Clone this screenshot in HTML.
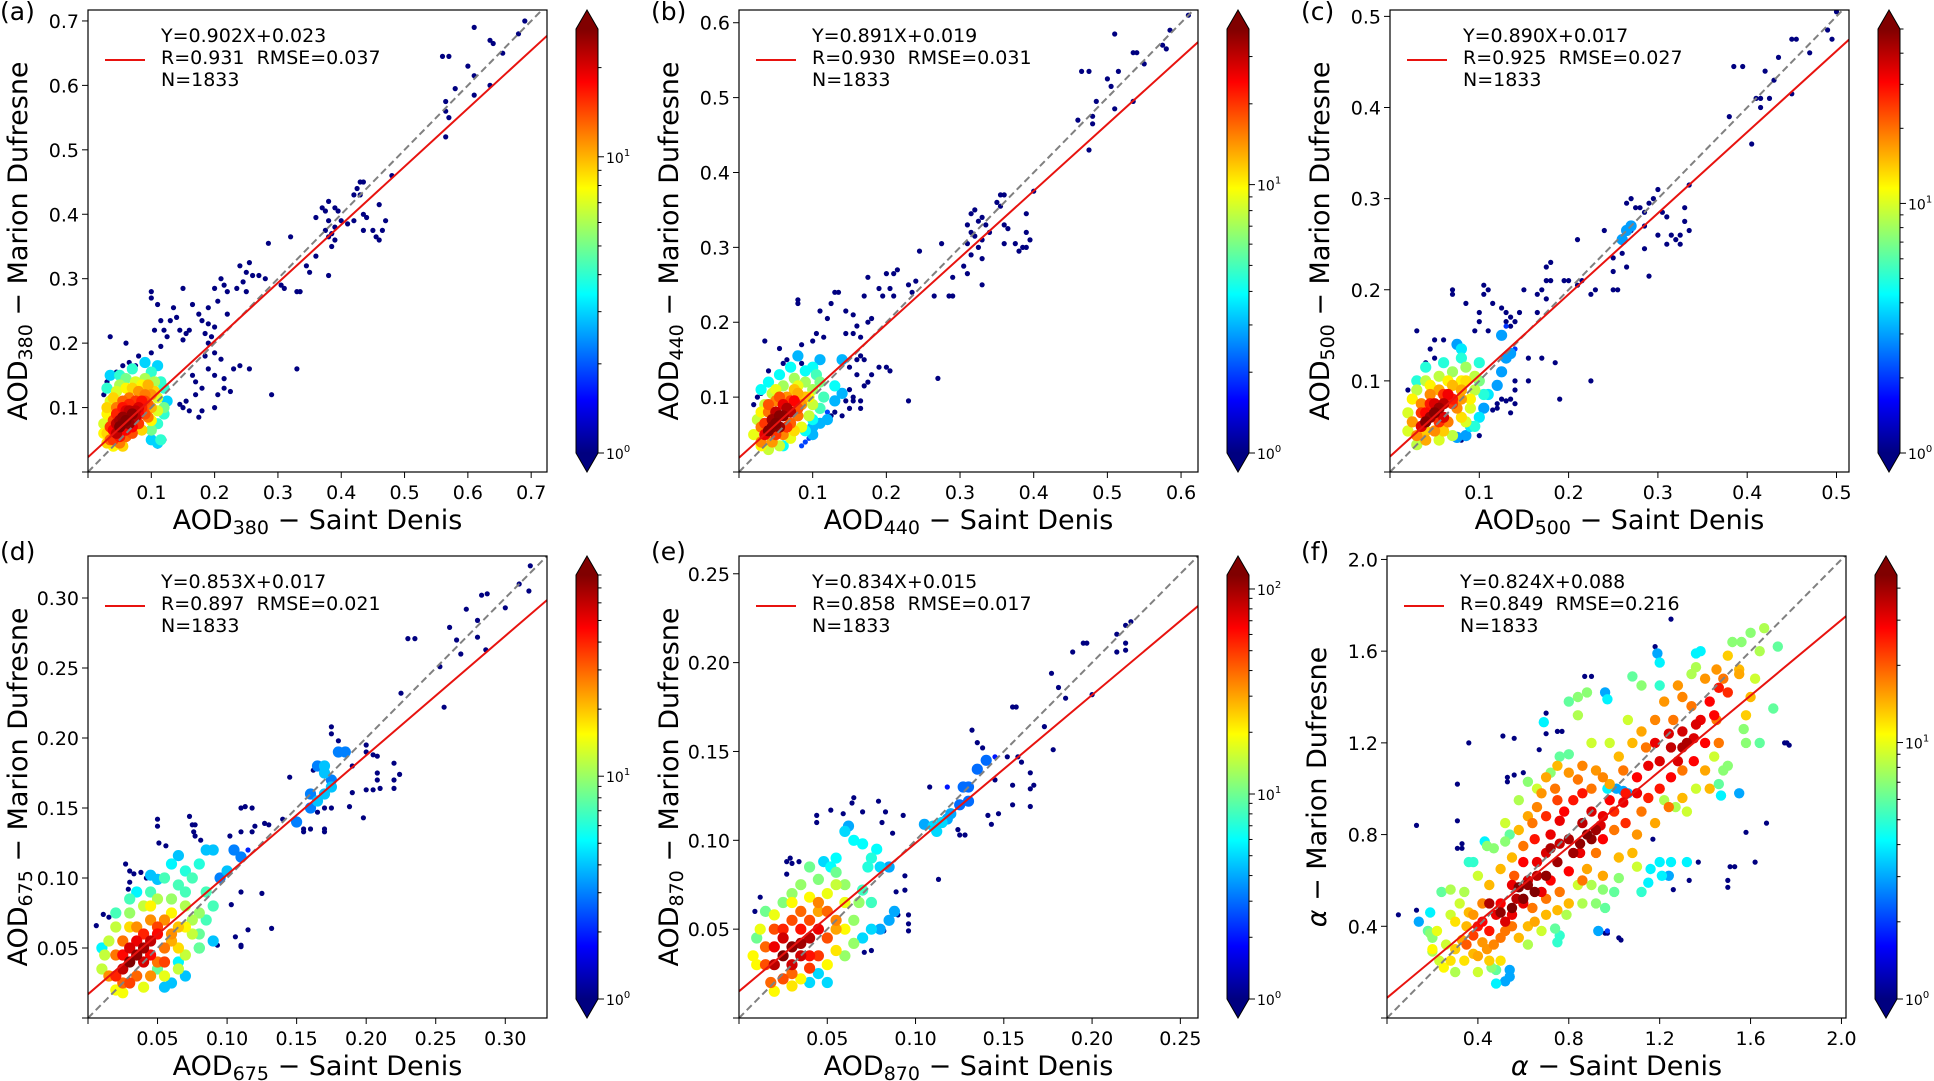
<!DOCTYPE html>
<html><head><meta charset="utf-8"><title>AOD scatter comparison</title>
<style>
html,body{margin:0;padding:0;background:#fff;}
svg{display:block;font-family:"DejaVu Sans","Liberation Sans",sans-serif;}
</style></head>
<body>
<svg id="fig" width="1934" height="1081" viewBox="0 0 1934 1081" xmlns="http://www.w3.org/2000/svg">
<defs id="defs"></defs>
</svg>
<script>
// ---------- DATA ----------
const xTicksA=[0.1,0.2,0.3,0.4,0.5,0.6,0.7];
const yTicksA=[0.1,0.2,0.3,0.4,0.5,0.6,0.7];
const xTicksB=[0.1,0.2,0.3,0.4,0.5,0.6];
const yTicksB=[0.1,0.2,0.3,0.4,0.5,0.6];
const xTicksC=[0.1,0.2,0.3,0.4,0.5];
const yTicksC=[0.1,0.2,0.3,0.4,0.5];
const xTicksD=[0.05,0.10,0.15,0.20,0.25,0.30];
const yTicksD=[0.05,0.10,0.15,0.20,0.25,0.30];
const xTicksE=[0.05,0.10,0.15,0.20,0.25];
const yTicksE=[0.05,0.10,0.15,0.20,0.25];
const xTicksF=[0.4,0.8,1.2,1.6,2.0];
const yTicksF=[0.4,0.8,1.2,1.6,2.0];
const slopes=[0.902,0.891,0.890,0.853,0.834,0.824];
const intercepts=[0.023,0.019,0.017,0.017,0.015,0.088];
const rValues=["0.931","0.930","0.925","0.897","0.858","0.849"];
const rmseValues=["0.037","0.031","0.027","0.021","0.017","0.216"];
const nValues=[1833,1833,1833,1833,1833,1833];
const cbarMax=[27,38,50,80,117,45];

const ptsA=[[0.69,0.70],[0.61,0.69],[0.56,0.645],[0.57,0.645],[0.6,0.63],[0.64,0.665],[0.635,0.67],[0.68,0.68],[0.655,0.65],[0.61,0.615],[0.58,0.595],[0.61,0.585],[0.635,0.6],[0.565,0.575],[0.565,0.56],[0.57,0.55],[0.565,0.52],[0.48,0.46],[0.43,0.45],[0.435,0.45],[0.425,0.44],[0.42,0.43],[0.43,0.43],[0.46,0.415],[0.38,0.42],[0.37,0.41],[0.375,0.405],[0.39,0.41],[0.395,0.405],[0.36,0.395],[0.38,0.39],[0.39,0.38],[0.375,0.375],[0.385,0.37],[0.38,0.365],[0.39,0.36],[0.385,0.35],[0.4,0.39],[0.41,0.385],[0.42,0.39],[0.435,0.4],[0.44,0.395],[0.435,0.375],[0.45,0.375],[0.455,0.365],[0.46,0.36],[0.465,0.375],[0.47,0.39],[0.38,0.305],[0.32,0.365],[0.285,0.355],[0.36,0.335],[0.345,0.32],[0.35,0.31],[0.335,0.28],[0.33,0.28],[0.305,0.29],[0.31,0.285],[0.27,0.305],[0.28,0.3],[0.26,0.305],[0.255,0.325],[0.24,0.32],[0.25,0.31],[0.245,0.295],[0.235,0.285],[0.25,0.28],[0.22,0.28],[0.21,0.3],[0.215,0.29],[0.2,0.285],[0.19,0.255],[0.205,0.265],[0.22,0.245],[0.175,0.245],[0.165,0.26],[0.18,0.235],[0.19,0.23],[0.2,0.225],[0.16,0.22],[0.15,0.285],[0.1,0.28],[0.1,0.27],[0.115,0.235],[0.11,0.26],[0.135,0.255],[0.14,0.24],[0.13,0.235],[0.12,0.22],[0.105,0.22],[0.125,0.21],[0.145,0.22],[0.155,0.215],[0.15,0.205],[0.035,0.21],[0.06,0.2],[0.185,0.215],[0.195,0.21],[0.19,0.2],[0.185,0.18],[0.2,0.185],[0.21,0.175],[0.19,0.16],[0.2,0.15],[0.215,0.145],[0.23,0.16],[0.215,0.13],[0.205,0.12],[0.18,0.13],[0.17,0.14],[0.165,0.15],[0.17,0.12],[0.2,0.1],[0.225,0.125],[0.24,0.165],[0.255,0.16],[0.29,0.12],[0.33,0.16],[0.16,0.095],[0.175,0.085],[0.18,0.095],[0.12,0.05],[0.11,0.04],[0.025,0.12],[0.03,0.14],[0.045,0.155],[0.055,0.165],[0.065,0.17],[0.075,0.165],[0.08,0.18],[0.1,0.185],[0.115,0.195],[0.145,0.105],[0.15,0.1],[0.155,0.11],
[0.03,0.13,4],[0.035,0.15,3],[0.05,0.15,4],[0.07,0.16,4],[0.09,0.17,3],[0.11,0.165,3],[0.12,0.13,4],[0.125,0.11,3],[0.12,0.09,4],[0.11,0.075,4],[0.1,0.065,5],[0.1,0.05,3],[0.11,0.045,3],[0.115,0.05,4],[0.1,0.155,4],[0.06,0.145,5],[0.12,0.1,5],[0.115,0.14,4],
[0.03,0.09,8],[0.035,0.11,7],[0.045,0.125,7],[0.06,0.13,8],[0.075,0.14,7],[0.09,0.145,6],[0.105,0.14,6],[0.11,0.115,7],[0.11,0.095,7],[0.1,0.08,8],[0.085,0.065,9],[0.03,0.06,9],[0.04,0.04,8],[0.055,0.04,9],[0.025,0.075,7],[0.105,0.125,9],[0.04,0.115,9],[0.05,0.135,6],[0.07,0.13,9],[0.085,0.135,8],[0.03,0.1,9],[0.025,0.06,8],[0.03,0.045,9],[0.1,0.1,10],
[0.035,0.05,13],[0.04,0.08,14],[0.045,0.1,12],[0.055,0.11,13],[0.065,0.115,12],[0.08,0.125,11],[0.09,0.12,12],[0.095,0.105,13],[0.09,0.09,14],[0.08,0.075,15],[0.07,0.06,14],[0.06,0.055,13],[0.05,0.045,12],[0.1,0.12,11],[0.095,0.135,10],[0.045,0.09,16],[0.055,0.1,17],[0.065,0.105,16],[0.075,0.11,15],[0.085,0.1,16],[0.08,0.09,18],[0.07,0.07,18],[0.06,0.065,18],[0.05,0.055,17],[0.04,0.05,15],[0.035,0.07,15],[0.09,0.11,14],[0.045,0.05,12],[0.095,0.085,12],
[0.05,0.07,27],[0.06,0.08,27],[0.07,0.09,26],[0.055,0.085,25],[0.065,0.075,25],[0.075,0.095,22],[0.045,0.06,22],[0.08,0.10,20],[0.04,0.065,18],[0.06,0.095,20],[0.07,0.08,22],[0.085,0.11,17],[0.05,0.08,24],[0.065,0.095,22],[0.075,0.085,22],[0.055,0.075,26],[0.045,0.075,22]];

const ptsB=[[0.61,0.61],[0.51,0.585],[0.535,0.56],[0.54,0.56],[0.575,0.57],[0.585,0.59],[0.58,0.565],[0.55,0.545],[0.465,0.535],[0.475,0.535],[0.5,0.525],[0.505,0.515],[0.515,0.535],[0.535,0.495],[0.51,0.485],[0.485,0.495],[0.46,0.47],[0.48,0.465],[0.48,0.475],[0.475,0.43],[0.4,0.375],[0.355,0.37],[0.36,0.37],[0.355,0.355],[0.35,0.36],[0.32,0.35],[0.315,0.345],[0.33,0.34],[0.325,0.335],[0.31,0.33],[0.335,0.33],[0.315,0.32],[0.32,0.315],[0.33,0.31],[0.31,0.305],[0.325,0.3],[0.315,0.29],[0.34,0.32],[0.365,0.325],[0.36,0.33],[0.375,0.305],[0.385,0.3],[0.38,0.295],[0.39,0.3],[0.395,0.31],[0.39,0.32],[0.39,0.345],[0.36,0.305],[0.33,0.25],[0.33,0.285],[0.31,0.265],[0.305,0.275],[0.29,0.26],[0.29,0.235],[0.285,0.235],[0.265,0.235],[0.275,0.305],[0.245,0.295],[0.24,0.255],[0.235,0.24],[0.23,0.25],[0.215,0.27],[0.21,0.265],[0.205,0.245],[0.21,0.235],[0.2,0.265],[0.19,0.245],[0.195,0.235],[0.175,0.26],[0.17,0.235],[0.18,0.205],[0.175,0.2],[0.16,0.195],[0.155,0.21],[0.155,0.185],[0.165,0.18],[0.135,0.24],[0.13,0.24],[0.125,0.225],[0.145,0.215],[0.145,0.185],[0.12,0.205],[0.11,0.215],[0.105,0.185],[0.115,0.18],[0.08,0.23],[0.08,0.225],[0.1,0.175],[0.085,0.17],[0.035,0.175],[0.055,0.165],[0.19,0.14],[0.205,0.135],[0.18,0.13],[0.175,0.12],[0.17,0.115],[0.165,0.095],[0.16,0.13],[0.15,0.14],[0.15,0.11],[0.155,0.095],[0.145,0.095],[0.14,0.075],[0.125,0.075],[0.13,0.08],[0.15,0.085],[0.27,0.125],[0.23,0.095],[0.165,0.085],[0.155,0.1],[0.2,0.14],[0.17,0.15],[0.165,0.155],[0.16,0.15],[0.085,0.145],[0.06,0.145],[0.065,0.15],[0.04,0.135],[0.025,0.1],[0.02,0.09],[0.03,0.105],
[0.09,0.04,2],[0.095,0.045,2],[0.1,0.05,3],[0.085,0.035,2],[0.1,0.06,3],[0.11,0.065,3],[0.12,0.07,3],[0.12,0.08,2],[0.13,0.095,3],[0.13,0.115,4],[0.14,0.105,3],[0.14,0.15,3],[0.08,0.155,3],[0.1,0.14,4],[0.11,0.15,3],
[0.03,0.11,4],[0.04,0.12,4],[0.055,0.13,4],[0.07,0.14,4],[0.09,0.135,4],[0.105,0.13,5],[0.115,0.1,5],[0.11,0.085,5],[0.1,0.07,4],[0.09,0.055,4],[0.06,0.035,4],
[0.02,0.05,9],[0.025,0.07,8],[0.035,0.09,8],[0.045,0.105,8],[0.06,0.115,7],[0.075,0.125,7],[0.09,0.12,7],[0.1,0.11,7],[0.1,0.09,8],[0.095,0.075,8],[0.085,0.06,9],[0.07,0.045,9],[0.055,0.035,8],[0.04,0.03,8],[0.11,0.12,6],[0.03,0.08,10],[0.05,0.11,9],[0.08,0.115,9],[0.095,0.1,10],[0.075,0.055,11],[0.03,0.035,10],
[0.03,0.04,15],[0.03,0.06,16],[0.04,0.08,16],[0.05,0.095,15],[0.065,0.1,14],[0.08,0.105,13],[0.085,0.09,14],[0.08,0.075,16],[0.07,0.065,17],[0.06,0.05,15],[0.045,0.04,14],[0.09,0.1,12],[0.075,0.11,12],[0.04,0.09,18],[0.055,0.1,18],[0.07,0.095,19],[0.08,0.085,18],[0.065,0.06,20],[0.05,0.05,20],[0.035,0.065,20],
[0.04,0.055,38],[0.05,0.065,38],[0.06,0.075,36],[0.055,0.06,35],[0.045,0.07,34],[0.065,0.085,32],[0.07,0.08,30],[0.05,0.08,30],[0.035,0.05,26],[0.075,0.095,24],[0.06,0.09,26],[0.055,0.075,37],[0.045,0.06,37]];

const ptsC=[[0.5,0.505],[0.49,0.485],[0.495,0.475],[0.47,0.46],[0.45,0.475],[0.455,0.475],[0.435,0.455],[0.385,0.445],[0.395,0.445],[0.42,0.44],[0.43,0.43],[0.41,0.41],[0.415,0.41],[0.425,0.41],[0.38,0.39],[0.415,0.4],[0.45,0.415],[0.405,0.36],[0.335,0.315],[0.3,0.31],[0.295,0.3],[0.27,0.3],[0.265,0.295],[0.275,0.29],[0.28,0.29],[0.285,0.285],[0.29,0.295],[0.305,0.285],[0.31,0.28],[0.33,0.29],[0.33,0.275],[0.335,0.265],[0.325,0.26],[0.32,0.255],[0.315,0.26],[0.31,0.25],[0.325,0.25],[0.3,0.26],[0.285,0.27],[0.285,0.245],[0.27,0.265],[0.29,0.215],[0.24,0.265],[0.21,0.255],[0.25,0.235],[0.25,0.22],[0.25,0.2],[0.255,0.2],[0.265,0.225],[0.26,0.24],[0.23,0.2],[0.225,0.195],[0.215,0.21],[0.21,0.205],[0.2,0.21],[0.195,0.21],[0.18,0.21],[0.175,0.225],[0.18,0.23],[0.175,0.21],[0.17,0.2],[0.165,0.195],[0.175,0.19],[0.165,0.175],[0.15,0.2],[0.145,0.175],[0.14,0.165],[0.135,0.17],[0.135,0.16],[0.13,0.165],[0.13,0.175],[0.125,0.18],[0.115,0.185],[0.11,0.2],[0.105,0.205],[0.105,0.195],[0.1,0.175],[0.1,0.165],[0.11,0.155],[0.095,0.155],[0.07,0.2],[0.07,0.195],[0.085,0.185],[0.03,0.155],[0.06,0.145],[0.05,0.145],[0.045,0.135],[0.05,0.125],[0.04,0.12],[0.155,0.125],[0.17,0.125],[0.185,0.12],[0.19,0.08],[0.225,0.1],[0.155,0.1],[0.14,0.1],[0.135,0.08],[0.14,0.075],[0.13,0.078],[0.125,0.08],[0.12,0.075],[0.135,0.065],[0.12,0.07],[0.115,0.068],[0.14,0.09],[0.1,0.04],[0.08,0.035],[0.02,0.09],[0.025,0.08],
[0.135,0.13,3],[0.13,0.125,3],[0.14,0.135,2],[0.125,0.11,3],[0.12,0.095,3],[0.11,0.085,4],[0.105,0.07,3],[0.1,0.06,4],[0.09,0.05,4],[0.085,0.04,3],[0.075,0.038,3],[0.265,0.265,3],[0.26,0.255,3],[0.27,0.27,3],[0.125,0.15,3],[0.13,0.16,2],[0.075,0.14,3],[0.08,0.135,4],
[0.03,0.1,5],[0.04,0.115,5],[0.06,0.12,5],[0.08,0.125,5],[0.1,0.12,5],[0.105,0.085,5],[0.095,0.05,5],
[0.02,0.045,10],[0.02,0.065,10],[0.03,0.09,9],[0.04,0.1,9],[0.055,0.105,9],[0.07,0.11,8],[0.085,0.115,8],[0.095,0.105,9],[0.095,0.09,9],[0.09,0.07,10],[0.085,0.055,10],[0.07,0.04,9],[0.055,0.035,10],[0.03,0.03,9],[0.1,0.1,7],[0.025,0.08,12],[0.045,0.095,12],[0.065,0.1,12],[0.08,0.1,12],[0.09,0.08,12],[0.08,0.06,13],[0.06,0.045,14],[0.04,0.045,14],
[0.03,0.04,18],[0.025,0.055,17],[0.035,0.075,18],[0.045,0.085,18],[0.055,0.09,16],[0.07,0.095,15],[0.08,0.09,16],[0.075,0.07,18],[0.065,0.055,19],[0.05,0.045,18],[0.04,0.035,16],[0.085,0.1,13],[0.08,0.08,17],[0.035,0.065,25],[0.045,0.075,28],[0.06,0.085,25],[0.07,0.075,25],[0.055,0.055,26],
[0.04,0.055,50],[0.05,0.065,50],[0.055,0.07,45],[0.045,0.06,45],[0.06,0.075,40],[0.035,0.05,35],[0.065,0.085,32],[0.05,0.075,35],[0.06,0.06,35],[0.04,0.065,30],[0.07,0.08,28]];

const ptsD=[[0.318,0.323],[0.31,0.31],[0.317,0.305],[0.3,0.293],[0.283,0.302],[0.287,0.303],[0.272,0.292],[0.28,0.284],[0.26,0.279],[0.265,0.27],[0.28,0.272],[0.268,0.26],[0.286,0.263],[0.253,0.251],[0.256,0.222],[0.235,0.271],[0.23,0.271],[0.225,0.232],[0.175,0.208],[0.175,0.203],[0.18,0.198],[0.2,0.195],[0.2,0.19],[0.205,0.188],[0.208,0.187],[0.22,0.182],[0.224,0.174],[0.22,0.17],[0.208,0.17],[0.21,0.164],[0.205,0.163],[0.2,0.163],[0.19,0.18],[0.19,0.161],[0.188,0.151],[0.198,0.143],[0.22,0.164],[0.208,0.175],[0.162,0.177],[0.145,0.172],[0.17,0.15],[0.175,0.15],[0.165,0.147],[0.16,0.135],[0.155,0.135],[0.155,0.133],[0.17,0.133],[0.17,0.135],[0.14,0.142],[0.13,0.138],[0.127,0.139],[0.12,0.137],[0.118,0.133],[0.11,0.133],[0.102,0.13],[0.11,0.15],[0.113,0.151],[0.118,0.15],[0.073,0.144],[0.05,0.142],[0.05,0.137],[0.051,0.125],[0.056,0.123],[0.075,0.138],[0.077,0.138],[0.076,0.133],[0.077,0.13],[0.081,0.127],[0.027,0.11],[0.03,0.105],[0.033,0.103],[0.038,0.104],[0.03,0.097],[0.006,0.066],[0.011,0.074],[0.015,0.072],[0.11,0.09],[0.103,0.081],[0.125,0.089],[0.132,0.064],[0.115,0.063],[0.106,0.058],[0.11,0.051],[0.11,0.052],[0.093,0.052],[0.029,0.092],[0.042,0.1],
[0.165,0.18,3],[0.17,0.175,4],[0.175,0.17,3],[0.18,0.19,3],[0.185,0.19,3],[0.17,0.16,4],[0.165,0.155,4],[0.16,0.16,3],[0.175,0.165,4],[0.16,0.15,3],[0.15,0.14,3],[0.17,0.18,4],[0.105,0.12,3],[0.11,0.115,3],[0.095,0.1,3],[0.1,0.105,4],[0.115,0.12,2],[0.045,0.102,4],[0.05,0.099,4],[0.06,0.11,5],[0.065,0.116,4],[0.085,0.12,4],[0.09,0.12,4],[0.09,0.055,4],[0.08,0.05,5],[0.06,0.025,4],[0.055,0.022,4],[0.07,0.03,4],[0.065,0.04,5],[0.035,0.09,5],[0.01,0.05,5],
[0.02,0.075,7],[0.03,0.085,7],[0.045,0.09,7],[0.055,0.1,7],[0.065,0.095,7],[0.075,0.1,7],[0.085,0.09,7],[0.09,0.08,7],[0.085,0.07,7],[0.08,0.06,8],[0.08,0.05,8],[0.07,0.09,7],[0.07,0.105,6],[0.08,0.11,6],[0.05,0.035,8],
[0.01,0.035,12],[0.012,0.045,12],[0.015,0.055,12],[0.02,0.065,12],[0.03,0.075,10],[0.04,0.08,12],[0.05,0.085,11],[0.06,0.085,10],[0.07,0.08,11],[0.075,0.07,11],[0.075,0.06,12],[0.07,0.045,12],[0.065,0.035,12],[0.055,0.03,14],[0.04,0.022,14],[0.025,0.018,15],[0.02,0.02,15],[0.08,0.075,10],[0.045,0.08,16],[0.06,0.075,16],[0.07,0.065,16],[0.065,0.05,18],[0.03,0.065,18],
[0.015,0.03,25],[0.02,0.045,28],[0.025,0.055,28],[0.035,0.065,25],[0.045,0.07,25],[0.055,0.07,25],[0.06,0.06,25],[0.055,0.05,28],[0.05,0.04,28],[0.045,0.03,25],[0.035,0.03,30],[0.025,0.025,30],[0.06,0.055,22],[0.065,0.065,20],[0.05,0.065,35],[0.04,0.06,40],[0.03,0.025,35],[0.055,0.04,35],
[0.03,0.04,80],[0.035,0.045,75],[0.04,0.05,70],[0.025,0.035,60],[0.045,0.055,60],[0.03,0.05,55],[0.04,0.04,55],[0.05,0.06,45],[0.02,0.03,40],[0.035,0.055,50],[0.045,0.045,45],[0.025,0.045,45]];

const ptsE=[[0.222,0.223],[0.219,0.221],[0.214,0.216],[0.219,0.211],[0.214,0.206],[0.219,0.207],[0.195,0.211],[0.197,0.211],[0.189,0.206],[0.177,0.194],[0.181,0.186],[0.185,0.18],[0.2,0.182],[0.178,0.151],[0.173,0.164],[0.155,0.175],[0.157,0.175],[0.158,0.147],[0.16,0.144],[0.165,0.138],[0.167,0.131],[0.165,0.129],[0.165,0.119],[0.155,0.131],[0.155,0.12],[0.147,0.115],[0.143,0.109],[0.141,0.114],[0.145,0.134],[0.152,0.147],[0.132,0.162],[0.135,0.155],[0.138,0.152],[0.108,0.13],[0.113,0.078],[0.125,0.103],[0.128,0.103],[0.124,0.106],[0.087,0.104],[0.093,0.114],[0.083,0.116],[0.081,0.11],[0.079,0.122],[0.07,0.116],[0.065,0.124],[0.064,0.121],[0.059,0.115],[0.052,0.117],[0.044,0.11],[0.044,0.114],[0.027,0.088],[0.029,0.09],[0.03,0.087],[0.034,0.088],[0.027,0.081],[0.012,0.068],[0.009,0.06],[0.094,0.08],[0.094,0.072],[0.089,0.071],[0.096,0.058],[0.096,0.053],[0.096,0.049],[0.09,0.058],[0.082,0.049],[0.075,0.038],[0.071,0.037],
[0.105,0.109,4],[0.11,0.108,5],[0.115,0.11,5],[0.112,0.105,5],[0.118,0.112,4],[0.12,0.115,4],[0.125,0.12,3],[0.13,0.13,3],[0.127,0.13,3],[0.135,0.14,3],[0.14,0.145,3],[0.145,0.147,2],[0.13,0.122,3],[0.118,0.13,2],[0.08,0.05,4],[0.085,0.055,4],[0.075,0.05,5],[0.07,0.045,5],[0.088,0.06,4],[0.062,0.108,4],[0.06,0.105,5],[0.065,0.1,6],[0.07,0.098,6],[0.078,0.095,6],[0.075,0.09,7],[0.073,0.085,7],[0.048,0.088,5],[0.052,0.085,6],[0.055,0.09,6],[0.045,0.025,5],[0.04,0.02,5],[0.05,0.02,5],[0.08,0.085,5],[0.085,0.085,4],[0.07,0.072,8],[0.075,0.065,8],
[0.01,0.045,10],[0.015,0.06,10],[0.025,0.065,11],[0.035,0.075,12],[0.045,0.078,11],[0.055,0.082,10],[0.06,0.075,12],[0.068,0.065,12],[0.065,0.055,12],[0.065,0.042,12],[0.06,0.035,12],[0.04,0.085,10],[0.03,0.07,12],
[0.01,0.03,20],[0.008,0.035,20],[0.012,0.05,18],[0.02,0.058,18],[0.03,0.065,20],[0.04,0.068,20],[0.05,0.07,18],[0.06,0.065,18],[0.06,0.05,20],[0.055,0.038,22],[0.05,0.03,20],[0.035,0.022,20],[0.02,0.015,20],[0.03,0.018,22],[0.055,0.075,15],[0.045,0.06,30],[0.055,0.05,30],[0.035,0.05,60],[0.025,0.05,55],[0.04,0.035,60],[0.03,0.025,40],
[0.015,0.03,45],[0.015,0.04,40],[0.02,0.05,45],[0.03,0.055,45],[0.04,0.055,45],[0.05,0.06,40],[0.05,0.045,45],[0.045,0.035,50],[0.04,0.028,50],[0.025,0.022,45],[0.018,0.02,40],[0.055,0.055,35],[0.045,0.065,35],[0.035,0.06,40],
[0.025,0.035,117],[0.03,0.04,110],[0.035,0.042,100],[0.02,0.03,90],[0.04,0.045,90],[0.025,0.045,80],[0.035,0.035,80],[0.045,0.05,70],[0.03,0.03,80],[0.02,0.04,70]];

const ptsF=[[0.05,0.45],[0.13,0.47],[0.13,0.84],[0.31,0.74],[0.33,0.74],[0.33,0.76],[0.31,0.86],[0.31,1.02],[0.36,1.2],[0.51,1.23],[0.56,1.22],[0.53,1.05],[0.53,1.03],[0.56,1.06],[0.6,1.07],[0.67,1.17],[0.7,1.24],[0.7,1.33],[0.75,1.25],[0.77,1.25],[0.87,1.49],[0.9,1.49],[1.25,1.74],[1.18,1.62],[0.96,0.37],[0.97,0.37],[1.02,0.35],[1.03,0.34],[1.26,0.56],[1.33,0.6],[1.37,0.68],[1.5,0.57],[1.5,0.6],[1.51,0.66],[1.53,0.66],[1.62,0.68],[1.58,0.81],[1.67,0.85],[1.76,1.2],[1.75,1.2],[1.77,1.19],[1.17,0.78],
[0.14,0.42,3],[0.19,0.46,4],[0.54,0.21,3],[0.54,0.18,3],[0.52,0.16,3],[0.48,0.15,4],[0.93,0.38,3],[0.97,0.38,2],[1.21,0.62,4],[1.24,0.62,3],[1.16,0.65,4],[1.2,0.68,4],[1.25,0.68,4],[1.32,0.68,4],[1.15,0.59,4],[1.12,0.55,5],[1.04,0.99,3],[1.01,1.0,3],[0.97,1.0,4],[1.06,0.98,3],[1.47,0.97,4],[1.55,0.98,3],[0.69,1.29,4],[0.97,1.39,4],[0.96,1.42,3],[1.19,1.59,3],[1.2,1.55,4],[1.2,1.45,5],[1.38,1.6,4],[1.36,1.59,4],[0.43,0.77,4],[0.38,0.68,5],[0.36,0.68,5],
[0.19,0.37,7],[0.2,0.35,7],[0.18,0.38,6],[0.2,0.29,8],[0.24,0.55,6],[0.28,0.56,8],[0.44,0.75,7],[0.47,0.74,7],[0.54,0.8,6],[0.52,0.77,7],[0.48,0.21,6],[0.46,0.22,7],[0.74,0.39,6],[0.76,0.36,5],[0.75,0.33,5],[0.79,0.45,8],[0.86,0.5,8],[0.92,0.5,7],[0.96,0.48,6],[1.0,0.55,6],[1.02,0.61,7],[0.95,0.56,7],[0.9,0.58,8],[0.76,1.14,6],[0.8,1.15,6],[0.72,1.07,7],[0.84,1.4,7],[0.8,1.38,6],[0.88,1.42,7],[0.84,1.32,8],[1.08,1.49,6],[1.12,1.45,7],[1.48,1.08,7],[1.5,1.1,7],[1.46,1.02,6],[1.58,1.2,7],[1.64,1.2,6],[1.7,1.35,6],[1.72,1.62,6],[1.6,1.68,7],[1.66,1.7,8],[1.52,1.64,7],[1.56,1.64,7],[1.36,1.53,8],[1.34,1.5,8],[1.57,1.26,7],[0.62,1.03,7],[0.58,0.95,8],[1.27,0.92,8],[1.22,0.95,8],[0.34,0.55,8],[0.32,0.5,9],[0.26,0.32,9],[0.23,0.25,9],[0.3,0.2,8],[0.4,0.2,9],[0.62,0.32,8],[0.68,0.38,9],[0.84,0.58,9],[1.1,0.66,9],[1.32,0.9,9],[1.36,1.0,9],[1.44,1.14,9],[1.62,1.48,9],[1.64,1.6,8],[1.06,1.3,9],[0.98,1.2,9],[0.9,1.2,9],[0.66,1.0,9],[0.52,0.85,9],[0.4,0.62,9],[0.28,0.45,9],
[0.25,0.22,11],[0.28,0.25,12],[0.3,0.42,12],[0.35,0.4,14],[0.3,0.3,13],[0.38,0.28,14],[0.33,0.34,15],[0.4,0.27,15],[0.45,0.25,13],[0.5,0.25,12],[0.47,0.32,17],[0.38,0.45,16],[0.42,0.5,17],[0.45,0.58,14],[0.5,0.65,14],[0.55,0.7,14],[0.58,0.82,14],[0.62,0.88,15],[0.66,0.92,17],[0.68,0.98,16],[0.7,1.05,15],[0.75,1.1,14],[0.8,1.07,16],[0.86,1.1,17],[0.92,1.08,16],[0.95,1.05,17],[0.98,1.02,15],[1.02,1.14,14],[1.08,1.2,14],[1.12,1.25,15],[1.18,1.3,17],[1.22,1.38,16],[1.28,1.45,16],[1.3,1.4,17],[1.4,1.48,16],[1.45,1.52,16],[1.55,1.52,14],[1.6,1.4,14],[1.58,1.32,13],[1.55,1.5,15],[1.5,1.58,13],[1.4,1.08,15],[1.42,1.0,14],[1.3,0.96,14],[1.18,0.85,15],[1.1,0.8,16],[1.08,0.72,14],[1.02,0.7,14],[0.95,0.62,15],[0.88,0.65,15],[0.8,0.5,14],[0.75,0.47,14],[0.7,0.45,14],[0.65,0.42,15],[0.62,0.4,14],[0.58,0.35,14],[0.2,0.3,11],[0.22,0.38,10],[0.34,0.25,12],[0.42,0.33,16],[0.52,0.38,18],[0.56,0.62,20],[0.6,0.75,18],[0.64,0.85,18],[0.74,1.0,18],[0.84,1.04,18],[0.9,1.0,18],[1.04,1.08,18],[1.14,1.18,18],[1.26,1.3,18],[1.34,1.36,18],[1.48,1.48,18],[1.45,1.3,18],[1.46,1.2,18],[1.3,1.08,18],[1.24,0.92,18],[1.12,0.9,18],[1.0,0.82,18],[0.92,0.72,18],[0.86,0.6,18],[0.76,0.55,18],[0.7,0.52,18],[0.64,0.48,18],[0.55,0.4,18],[0.5,0.35,18],[0.44,0.3,16],[0.36,0.46,14],
[0.42,0.42,28],[0.45,0.38,26],[0.48,0.45,30],[0.5,0.5,28],[0.55,0.45,30],[0.6,0.5,30],[0.62,0.6,32],[0.66,0.68,30],[0.7,0.72,32],[0.72,0.8,30],[0.76,0.86,30],[0.78,0.9,28],[0.82,0.95,26],[0.86,0.98,26],[0.9,0.9,32],[0.95,0.88,30],[0.98,0.95,28],[1.0,0.9,24],[1.05,0.98,26],[1.1,1.05,28],[1.15,1.1,30],[1.2,1.12,32],[1.25,1.18,35],[1.3,1.25,33],[1.35,1.22,32],[1.38,1.3,30],[1.42,1.38,28],[1.46,1.44,26],[1.5,1.42,24],[1.4,1.2,28],[1.35,1.12,28],[1.25,1.05,28],[1.2,1.0,26],[1.15,0.96,25],[1.05,0.85,24],[0.95,0.78,28],[0.85,0.72,30],[0.8,0.64,28],[0.72,0.6,28],[0.68,0.55,30],[0.38,0.36,22],[0.35,0.32,20],[0.55,0.58,30],[0.6,0.68,28],[0.65,0.78,26],[0.7,0.88,24],[0.75,0.95,22],[0.4,0.4,26],[0.52,0.42,32],[0.57,0.52,36],[0.66,0.62,36],[0.76,0.76,34],[0.94,0.84,32],[1.04,0.94,30],[1.1,0.98,30],[1.28,1.12,32],[1.36,1.28,32],[1.44,1.32,28],[1.24,1.24,32],[1.18,1.2,30],
[0.5,0.46,42],[0.55,0.48,45],[0.6,0.52,44],[0.65,0.55,45],[0.62,0.58,42],[0.7,0.62,42],[0.75,0.68,40],[0.82,0.72,40],[0.85,0.76,42],[0.88,0.8,45],[0.9,0.78,42],[0.92,0.82,40],[0.8,0.78,38],[0.86,0.85,36],[0.45,0.5,38],[0.58,0.57,45],[0.72,0.74,38],[1.3,1.18,38],[1.32,1.2,38]];

// ---------- LAYOUT (not data) ----------
const NS="http://www.w3.org/2000/svg";
const svg=document.getElementById('fig');
const defs=document.getElementById('defs');
const AXW=459, AXH=462;
const panels=[
 {id:'a',left:88,top:10,xmax:0.725,ymax:0.717,xt:xTicksA,yt:yTicksA,dec:1,pts:ptsA,sub:'380',lx:0,ly:20,rc:5.6},
 {id:'b',left:739,top:10,xmax:0.623,ymax:0.617,xt:xTicksB,yt:yTicksB,dec:1,pts:ptsB,sub:'440',lx:651,ly:20,rc:5.6},
 {id:'c',left:1390,top:10,xmax:0.514,ymax:0.507,xt:xTicksC,yt:yTicksC,dec:1,pts:ptsC,sub:'500',lx:1301,ly:20,rc:5.6},
 {id:'d',left:88,top:556,xmax:0.33,ymax:0.33,xt:xTicksD,yt:yTicksD,dec:2,pts:ptsD,sub:'675',lx:0,ly:560,rc:5.6},
 {id:'e',left:739,top:556,xmax:0.26,ymax:0.26,xt:xTicksE,yt:yTicksE,dec:2,pts:ptsE,sub:'870',lx:651,ly:560,rc:5.6},
 {id:'f',left:1387,top:556,xmax:2.02,ymax:2.015,xt:xTicksF,yt:yTicksF,dec:1,pts:ptsF,sub:null,lx:1301,ly:560,rc:5.2}
];
function mk(tag,attrs,parent){const e=document.createElementNS(NS,tag);for(const k in attrs)e.setAttribute(k,attrs[k]);(parent||svg).appendChild(e);return e;}
function jet(t){t=Math.max(0,Math.min(1,t));const f=v=>Math.round(255*Math.max(0,Math.min(1,v)));
 return `rgb(${f(1.5-Math.abs(4*t-3))},${f(1.5-Math.abs(4*t-2))},${f(1.5-Math.abs(4*t-1))})`;}

const grad=mk('linearGradient',{id:'jetgrad',x1:0,y1:1,x2:0,y2:0},defs);
for(let i=0;i<=16;i++){mk('stop',{offset:(i/16),'stop-color':jet(i/16)},grad);}

panels.forEach((p,pi)=>{
 const g=mk('g',{});
 
 
 const L=p.left,T=p.top,B=T+AXH,R=L+AXW;
 const sx=v=>L+v/p.xmax*AXW;
 const sy=v=>B-v/p.ymax*AXH;
 const cid='clip'+p.id;
 const cp=mk('clipPath',{id:cid},defs);mk('rect',{x:L,y:T,width:AXW,height:AXH},cp);

 const pl=mk('text',{x:p.lx,y:p.ly,'font-size':25,fill:'#000'},g);pl.textContent='('+p.id+')';
 
 

 const sg=mk('g',{'clip-path':`url(#${cid})`},g);
 
 
 const lmax=Math.log10(cbarMax[pi]);
 const sorted=p.pts.map(q=>[q[0],q[1],q.length>2?q[2]:1]).sort((a,b)=>a[2]-b[2]);
 sorted.forEach(q=>{
  const r=q[2]>=3?p.rc:2.6;
  const c=mk('circle',{cx:sx(q[0]).toFixed(1),cy:sy(q[1]).toFixed(1),r:r,fill:jet(Math.log10(q[2])/lmax)},sg);
  
  
 });
 const one=mk('line',{x1:sx(0),y1:sy(0),x2:sx(Math.min(p.xmax,p.ymax)*1.05),y2:sy(Math.min(p.xmax,p.ymax)*1.05),stroke:'#808080','stroke-width':2,'stroke-dasharray':'7,4','clip-path':`url(#${cid})`},g);
 
 
 const a=slopes[pi],b=intercepts[pi];
 const rl=mk('line',{x1:sx(0),y1:sy(b),x2:sx(p.xmax),y2:sy(a*p.xmax+b),stroke:'#e8130f','stroke-width':2,'clip-path':`url(#${cid})`},g);
 
 
 const fr=mk('rect',{x:L,y:T,width:AXW,height:AXH,fill:'none',stroke:'#000','stroke-width':1.2},g);
 
 
 const fmt=v=>v.toFixed(p.dec);
 mk('line',{x1:L,y1:B,x2:L,y2:B+6,stroke:'#000','stroke-width':1},g);
 mk('line',{x1:L-6,y1:B,x2:L,y2:B,stroke:'#000','stroke-width':1},g);
 p.xt.forEach(v=>{
  mk('line',{x1:sx(v),y1:B,x2:sx(v),y2:B+6,stroke:'#000','stroke-width':1},g);
  const t=mk('text',{x:sx(v),y:B+27,'text-anchor':'middle','font-size':19},g);t.textContent=fmt(v);
  
  
 });
 p.yt.forEach(v=>{
  mk('line',{x1:L-6,y1:sy(v),x2:L,y2:sy(v),stroke:'#000','stroke-width':1},g);
  const t=mk('text',{x:L-9,y:sy(v)+7,'text-anchor':'end','font-size':19},g);t.textContent=fmt(v);
  
  
 });
 const xt=mk('text',{x:L+AXW/2,y:B+57,'text-anchor':'middle','font-size':27},g);
 if(p.sub){xt.innerHTML=`AOD<tspan font-size="19" dy="5">${p.sub}</tspan><tspan dy="-5"> − Saint Denis</tspan>`;}
 else{xt.innerHTML=`<tspan font-style="italic">α</tspan> − Saint Denis`;}
 
 
 const yx=L-61,yy=T+AXH/2;
 const yt=mk('text',{x:yx,y:yy,'text-anchor':'middle','font-size':27,transform:`rotate(-90 ${yx} ${yy})`},g);
 if(p.sub){yt.innerHTML=`AOD<tspan font-size="19" dy="5">${p.sub}</tspan><tspan dy="-5"> − Marion Dufresne</tspan>`;}
 else{yt.innerHTML=`<tspan font-style="italic">α</tspan> − Marion Dufresne`;}
 
 
 const lg=mk('g',{},g);
 
 
 mk('line',{x1:L+17,y1:T+50,x2:L+57,y2:T+50,stroke:'#e8130f','stroke-width':2},lg);
 const lines=[`Y=${slopes[pi].toFixed(3)}X+${intercepts[pi].toFixed(3)}`,`R=${rValues[pi]}  RMSE=${rmseValues[pi]}`,`N=${nValues[pi]}`];
 lines.forEach((s,i)=>{const t=mk('text',{x:L+73,y:T+32+i*22,'font-size':19},lg);t.textContent=s.replace('  ','\u00a0\u00a0');});
 const cx=L+488,cw=22,ctop=T,cbot=B,tri=19;
 const bt=ctop+tri,bb=cbot-tri;
 const cb=mk('g',{},g);
 
 
 mk('rect',{x:cx,y:bt,width:cw,height:bb-bt,fill:'url(#jetgrad)'},cb);
 mk('polygon',{points:`${cx},${bt} ${cx+cw/2},${ctop} ${cx+cw},${bt}`,fill:jet(1)},cb);
 mk('polygon',{points:`${cx},${bb} ${cx+cw/2},${cbot} ${cx+cw},${bb}`,fill:jet(0)},cb);
 mk('polygon',{points:`${cx},${bt} ${cx+cw/2},${ctop} ${cx+cw},${bt} ${cx+cw},${bb} ${cx+cw/2},${cbot} ${cx},${bb}`,fill:'none',stroke:'#000','stroke-width':1},cb);
 const cy=v=>bb-Math.log10(v)/lmax*(bb-bt);
 for(let k=0;k<=2;k++){
  for(let m=1;m<=9;m++){
   const v=m*Math.pow(10,k); if(v>cbarMax[pi]) break;
   const y=cy(v);
   mk('line',{x1:cx+cw,y1:y,x2:cx+cw+(m===1?6:3.5),y2:y,stroke:'#000','stroke-width':1},cb);
   if(m===1){const t=mk('text',{x:cx+cw+8,y:y+6,'font-size':14},cb);t.innerHTML=`10<tspan font-size="10" dy="-7">${k}</tspan>`;
    
    }
  }
 }
});
</script>
</body></html>
